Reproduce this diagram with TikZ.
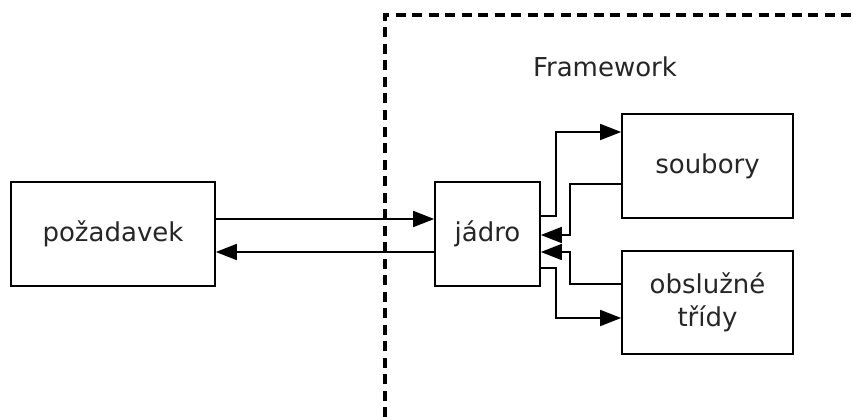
\documentclass[tikz,border=0pt]{standalone}
\usepackage{fontspec}
\setmainfont{DejaVu Sans}
\usetikzlibrary{arrows.meta,calc}
\begin{document}
\begin{tikzpicture}[x=1pt,y=-1pt,
  box/.style={draw=black,line width=1.7pt,rectangle,inner sep=0pt,align=center,
    font=\fontsize{26}{33}\selectfont,text=black!85},
  arr/.style={line width=1.7pt,-{Triangle[length=21pt,width=16pt]}},
  frame/.style={line width=3.4pt,dash pattern=on 10pt off 6.5pt}]
\useasboundingbox[fill=white] (0,0) rectangle (853,417);
\draw[frame] (385,417) -- (385,15) -- (853,15);
\node[font=\fontsize{26}{33}\selectfont,text=black!85] (fw) at (605,67) {Framework};
\node[box,minimum width=204pt,minimum height=104pt] (req) at (113,234) {požadavek};
\node[box,minimum width=105pt,minimum height=104pt] (jadro) at (487.5,234) {jádro};
\node[box,minimum width=171pt,minimum height=104pt] (soub) at (707.5,166) {soubory};
\node[box,minimum width=171pt,minimum height=103pt] (obsl) at (707.5,302.5) {obslužné\\třídy};
\draw[arr] ([yshift=15pt]req.east) -- ([yshift=15pt]jadro.west);
\draw[arr] ([yshift=-18pt]jadro.west) -- ([yshift=-18pt]req.east);
\draw[arr] ([yshift=18pt]jadro.east) -- ++(15,0) |- ([yshift=34pt]soub.west);
\draw[arr] ([yshift=-18pt]soub.west) -- ++(-51,0) |- ([yshift=-1pt]jadro.east);
\draw[arr] ([yshift=18.5pt]obsl.west) -- ++(-51,0) |- ([yshift=-18pt]jadro.east);
\draw[arr] ([yshift=-34pt]jadro.east) -- ++(15,0) |- ([yshift=-15.5pt]obsl.west);
\end{tikzpicture}
\end{document}
